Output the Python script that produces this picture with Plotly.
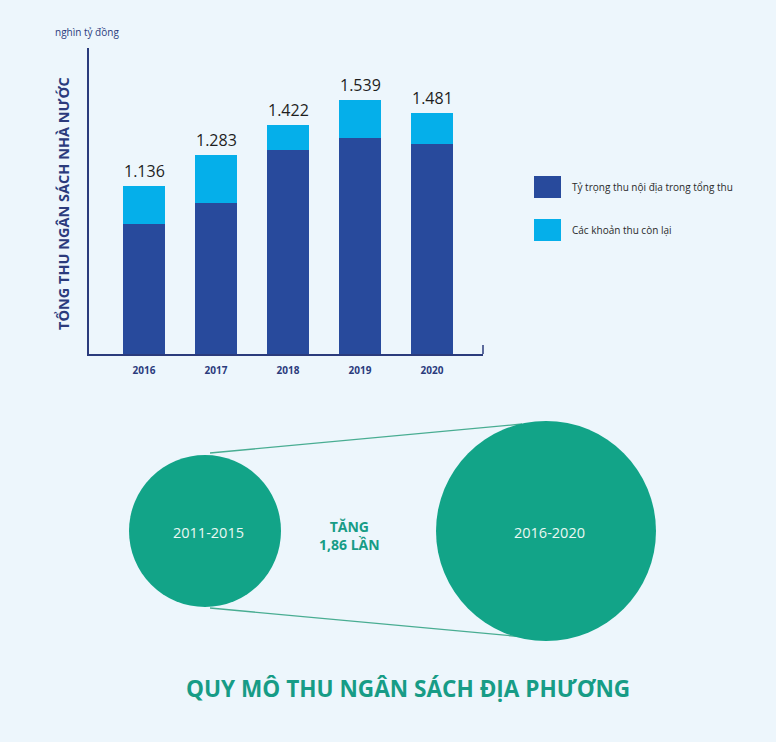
import plotly.graph_objects as go

# ---------------- data ----------------
years = ["2016", "2017", "2018", "2019", "2020"]
total = [1136, 1283, 1422, 1539, 1481]          # nghìn tỷ đồng
domestic = [957, 1056, 1305, 1361, 1333]
other = [t - d for t, d in zip(total, domestic)]
total_labels = ["1.136", "1.283", "1.422", "1.539", "1.481"]
series_names = ["Tỷ trọng thu nội địa trong tổng thu", "Các khoản thu còn lại"]
periods = ["2011-2015", "2016-2020"]
growth_text = "TĂNG<br>1,86 LẦN"
bottom_title = "QUY MÔ THU NGÂN SÁCH ĐỊA PHƯƠNG"
y_title = "TỔNG THU NGÂN SÁCH NHÀ NƯỚC"
unit_text = "nghìn tỷ đồng"

# ---------------- styles ----------------
W, H = 776, 742
BG = "#edf6fc"
DARK = "#284a9c"
LIGHT = "#05afea"
NAVY = "#2b3b7c"
TEAL = "#12a488"
TEAL_TXT = "#179c86"
FONT = "Open Sans"


def px(x):
    return x / W


def py(y):
    return 1 - y / H


fig = go.Figure()
fig.add_bar(x=years, y=domestic, name=series_names[0], marker_color=DARK,
            marker_line_width=0, showlegend=False, hoverinfo="x+y+name")
fig.add_bar(x=years, y=other, name=series_names[1], marker_color=LIGHT,
            marker_line_width=0, showlegend=False, hoverinfo="x+y+name")

annotations = []
for i, (t, lab) in enumerate(zip(total, total_labels)):
    annotations.append(dict(x=i, y=t, xref="x", yref="y", text=lab, showarrow=False,
                            yanchor="bottom", yshift=2,
                            font=dict(family=FONT, size=16, color="#1e1e1e")))

# unit & axis title
annotations.append(dict(x=px(87), y=py(32), xref="paper", yref="paper", text=unit_text,
                        showarrow=False, xanchor="center", yanchor="middle",
                        font=dict(family=FONT, size=10, color=NAVY)))
annotations.append(dict(x=px(63), y=py(204), xref="paper", yref="paper", text="<b>%s</b>" % y_title,
                        showarrow=False, textangle=-90, xanchor="center", yanchor="middle",
                        font=dict(family=FONT, size=14.5, color=NAVY)))

# legend (manual)
shapes = []
leg_rows = [(187, DARK), (230, LIGHT)]
for (yc, col), name in zip(leg_rows, series_names):
    shapes.append(dict(type="rect", xref="paper", yref="paper",
                       x0=px(534), x1=px(561), y0=py(yc + 11), y1=py(yc - 11),
                       fillcolor=col, line_width=0))
    annotations.append(dict(x=px(570), y=py(yc), xref="paper", yref="paper", text=name,
                            showarrow=False, xanchor="left", yanchor="middle",
                            font=dict(family=FONT, size=10, color="#2a2a2a")))

# small tick at right end of x axis
shapes.append(dict(type="line", xref="paper", yref="paper", x0=px(483), x1=px(483),
                   y0=py(345), y1=py(354), line=dict(color=NAVY, width=1.5)))

# circles section
c1 = (205, 531, 76)
c2 = (546, 531, 110)
shapes.append(dict(type="line", xref="paper", yref="paper", x0=px(210), y0=py(453),
                   x1=px(522), y1=py(424), line=dict(color="#49ad92", width=1.3)))
shapes.append(dict(type="line", xref="paper", yref="paper", x0=px(210), y0=py(608),
                   x1=px(524), y1=py(637), line=dict(color="#49ad92", width=1.3)))
for (cx, cy, r) in (c1, c2):
    shapes.append(dict(type="circle", xref="paper", yref="paper",
                       x0=px(cx - r), x1=px(cx + r), y0=py(cy + r), y1=py(cy - r),
                       fillcolor=TEAL, line_width=0))
for (cx, cy, r), lab in zip((c1, c2), periods):
    annotations.append(dict(x=px(cx + 3), y=py(cy + 1), xref="paper", yref="paper", text=lab,
                            showarrow=False, xanchor="center", yanchor="middle",
                            font=dict(family=FONT, size=14.5, color="#eaf7f3")))
annotations.append(dict(x=px(349), y=py(535), xref="paper", yref="paper",
                        text="<b>%s</b>" % growth_text, showarrow=False,
                        xanchor="center", yanchor="middle",
                        font=dict(family=FONT, size=14, color=TEAL_TXT)))
annotations.append(dict(x=px(408), y=py(688), xref="paper", yref="paper",
                        text="<b>%s</b>" % bottom_title, showarrow=False,
                        xanchor="center", yanchor="middle",
                        font=dict(family=FONT, size=22.6, color=TEAL_TXT)))

# y scale (from picture): px per unit and baseline
y0 = 345.6
y1 = y0 + 306 / 0.2127
fig.update_layout(
    width=W, height=H, margin=dict(l=0, r=0, t=0, b=0),
    paper_bgcolor=BG, plot_bgcolor=BG,
    barmode="stack", bargap=0.417,
    showlegend=False,
    xaxis=dict(domain=[px(89), px(483)], type="category", range=[-0.764, 4.708],
               showline=True, linecolor=NAVY, linewidth=1.5, ticks="", showgrid=False,
               ticklabelstandoff=6,
               tickfont=dict(family=FONT, size=10, color=NAVY, weight="bold"),
               fixedrange=True),
    yaxis=dict(domain=[py(354), py(48)], range=[y0, y1], showline=True, linecolor=NAVY,
               linewidth=1.5, showticklabels=False, ticks="", showgrid=False,
               zeroline=False, fixedrange=True),
    shapes=shapes, annotations=annotations,
)

fig.write_html("out.html")
